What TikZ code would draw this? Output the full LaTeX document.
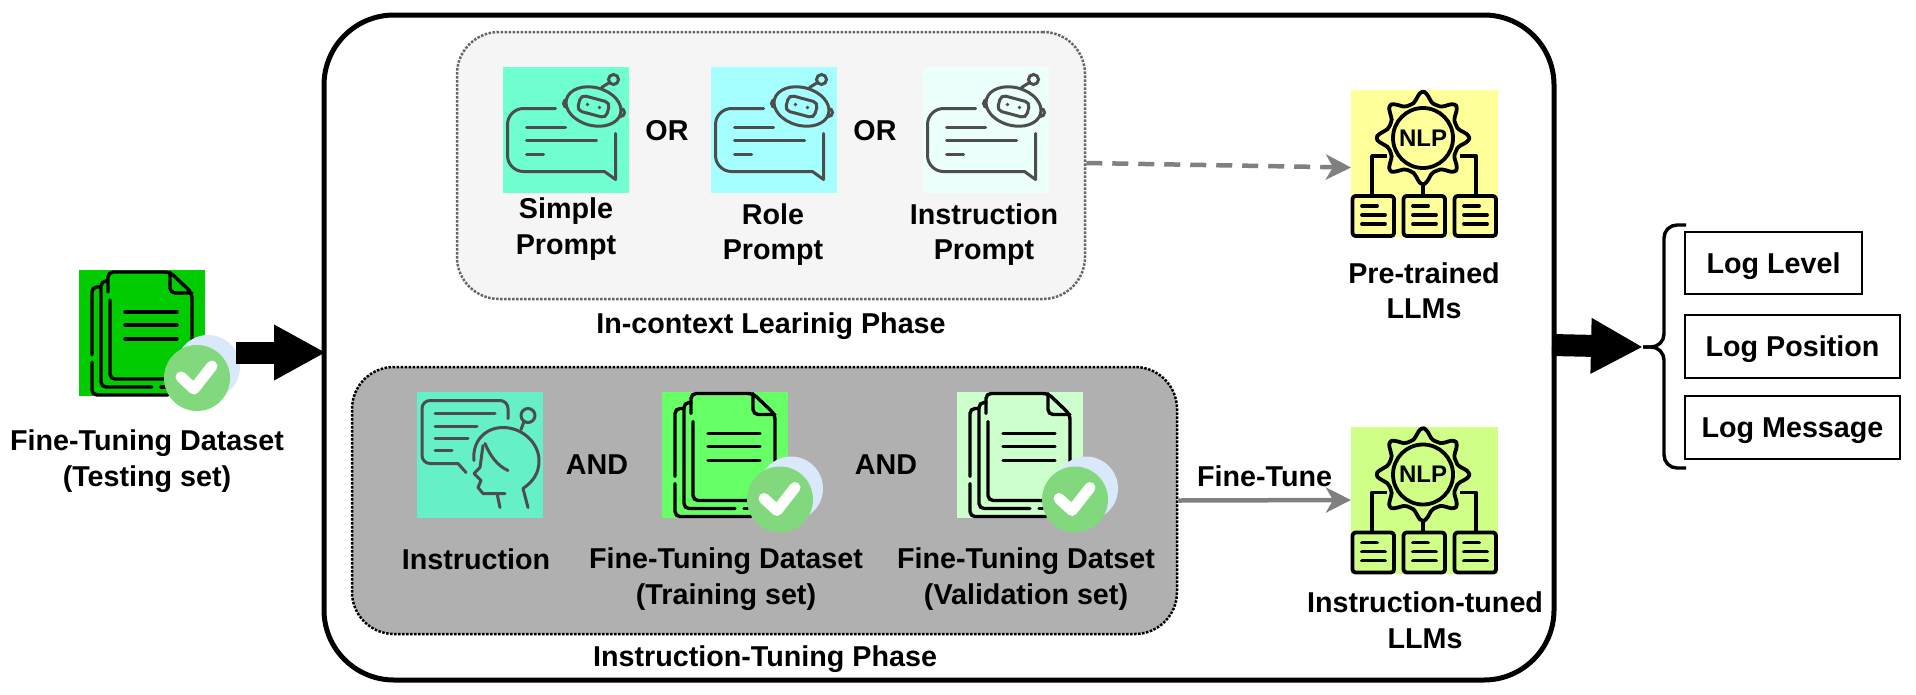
\documentclass[tikz,border=0pt]{standalone}
\usepackage{fontspec}
\setmainfont{Liberation Sans}
\usepackage{xcolor}
\usetikzlibrary{arrows.meta,positioning}

\definecolor{badgefront}{HTML}{82D97D}
\definecolor{badgeback}{HTML}{DAE8FC}
\definecolor{icongrey}{HTML}{4D4D4D}
\definecolor{testgreen}{HTML}{00CC00}
\definecolor{simplefill}{HTML}{6FFFD0}
\definecolor{rolefill}{HTML}{A6FFFF}
\definecolor{instrfill}{HTML}{EBFFFB}
\definecolor{headfill}{HTML}{66F0C8}
\definecolor{trainfill}{HTML}{66FF66}
\definecolor{validfill}{HTML}{CCFFCC}
\definecolor{prefill}{HTML}{FFFF99}
\definecolor{tunedfill}{HTML}{D0FF88}
\definecolor{tuninggrey}{HTML}{B0B0B0}

\tikzset{
    pics/docicon/.style={code={
        \begin{scope}[line width=3.4pt, line cap=round, rounded corners=5pt]
        \draw (31,30) -- (31,109) -- (86,109);
        \draw (29,22) -- (29,2) -- (91,2) -- (113,23) -- (113,77);
        \draw (91,2) -- (91,23) -- (113,23);
        \draw (29,11) -- (22,11) -- (22,117) -- (73,117);
        \draw (82,117) -- (86,117);
        \draw (22,17) -- (13,17) -- (13,85);
        \draw (13,92) -- (13,125) -- (89,125);
        \end{scope}
        \foreach \ypos in {42,55,69}
            \draw[line width=3.4pt, line cap=round] (46,\ypos) -- (98,\ypos);
        \fill[badgeback] (129,97) circle (32pt);
        \fill[badgefront] (118,108) circle (33pt);
        \draw[white, line width=11pt, line cap=round, line join=round] (102,107) -- (115,119) -- (133,96);
    }},
    pics/boticon/.style={code={
        \begin{scope}[draw=icongrey, line width=3pt, line cap=round]
        \draw[rounded corners=16pt] (53,42) -- (5,42) -- (5,105) -- (102,105);
        \draw[line join=round] (102,105) -- (113,113) -- (113,67);
        \draw (24,61) -- (63,61);
        \draw (24,74) -- (94,74);
        \draw (24,88) -- (41,88);
        \draw[fill=#1] (65,37) circle (4pt);
        \draw[fill=#1] (118,46) circle (4pt);
        \draw[fill=#1, rotate around={-15:(91,40)}] (91,40) ellipse [x radius=28pt, y radius=19pt];
        \draw[rounded corners=5pt, rotate around={-15:(91,40)}] (76,32) rectangle (106,48);
        \fill[icongrey] (85,38) circle (1.8pt) (97,41) circle (1.8pt);
        \draw (99,21) -- (107,16);
        \draw (111,13) circle (5pt);
        \end{scope}
    }},
    pics/headicon/.style={code={
        \begin{scope}[draw=icongrey, line width=3pt, line cap=round, line join=round]
        \draw[rounded corners=8pt] (91,27) -- (91,9) -- (5,9) -- (5,72) -- (41,72);
        \draw (41,72) -- (49,81);
        \draw (18,22) -- (78,22);
        \draw (18,35) -- (60,35);
        \draw (18,47) -- (51,47);
        \draw (18,59) -- (35,59);
        \draw (111,24) circle (7pt);
        \draw (107,30) -- (104,38);
        \draw (57,69) .. controls (55,50) and (68,36) .. (86,36) .. controls (106,36) and (122,52) .. (122,69) .. controls (122,82) and (116,90) .. (106,97) -- (111,116);
        \draw (68,52) .. controls (73,64) and (80,74) .. (91,79);
        \draw (66,54) -- (63,76) -- (57,82) -- (64,89) -- (61,96) -- (66,102) -- (88,102);
        \draw (80,102) -- (83,116);
        \end{scope}
    }},
    pics/nlpicon/.style={code={
        \begin{scope}[line width=3.8pt, line join=round]
        \draw[shift={(72,48)}] plot[smooth cycle, samples=65, domain=0:354.375] (\x:{35.5+11*(0.5+0.5*cos(8*\x))^2});
        \draw (72,48) circle (30pt);
        \node[font=\fontsize{24}{26}\selectfont\bfseries, inner sep=0pt] (-word) at (72,48) {NLP};
        \draw (36,66) -- (21,66) -- (21,105);
        \draw (109,66) -- (125,66) -- (125,105);
        \draw (72,93) -- (72,105);
        \foreach \xpos in {0,51,102} {
            \draw[rounded corners=3pt] (1.5+\xpos,106) rectangle (43+\xpos,146);
            \draw[line cap=round] (11+\xpos,116) -- (26+\xpos,116);
            \draw[line cap=round] (11+\xpos,125) -- (34+\xpos,125);
            \draw[line cap=round] (11+\xpos,134) -- (34+\xpos,134);
        }
        \end{scope}
    }}
}

\begin{document}
\begin{tikzpicture}[
    x=1pt, y=-1pt,
    mainbox/.style={rectangle, draw, line width=5pt, outer sep=0pt, rounded corners=70pt, minimum width=1230pt, minimum height=665pt},
    phasebox/.style={rectangle, draw, line width=2.5pt, dash pattern=on 2.5pt off 1.5pt, rounded corners=42pt},
    iconbox/.style={rectangle, inner sep=0pt, outer sep=0pt, minimum width=126pt, minimum height=126pt},
    nlpbox/.style={rectangle, inner sep=0pt, outer sep=0pt, minimum width=147pt, minimum height=147pt},
    txt/.style={font=\fontsize{28.7}{35.5}\selectfont\bfseries, align=center, inner sep=0pt, yshift=-3pt},
    logbox/.style={rectangle, draw, line width=1.5pt, font=\fontsize{28.7}{35.5}\selectfont\bfseries, inner sep=0pt, text height=26pt, text depth=5.5pt},
    blockarrow/.style={line width=22pt, -{Triangle[length=52pt, width=52pt]}},
    greyarrow/.style={draw=gray, line width=4.5pt, -{Stealth[length=25pt, width=25pt, inset=7pt]}, color=gray}
]
\useasboundingbox (0,0) rectangle (1916,694);

% outer frame
\node[mainbox] (main) at (939,347.5) {};

% testing set on the left
\node[iconbox, fill=testgreen] (testing) at (142,333) {};
\pic at (testing.north west) {docicon};
\node[txt] (testinglabel) at (147,458) {Fine-Tuning Dataset\\(Testing set)};

% in-context learning phase
\node[phasebox, draw=black!60, fill=black!4, minimum width=628pt, minimum height=267pt] (prompts) at (771,165.5) {};
\node[iconbox, fill=simplefill] (simple) at (565.5,129.5) {};
\node[iconbox, right=82pt of simple, fill=rolefill] (role) {};
\node[iconbox, right=86pt of role, fill=instrfill] (instr) {};
\pic at (simple.north west) {boticon=simplefill};
\pic at (role.north west) {boticon=rolefill};
\pic at (instr.north west) {boticon=instrfill};
\node[txt] (orone) at (667,128) {OR};
\node[txt] (ortwo) at (875,128) {OR};
\node[txt] (simplelabel) at (566,226) {Simple\\Prompt};
\node[txt] (rolelabel) at (773,231.5) {Role\\Prompt};
\node[txt] (instrlabel) at (984,231.5) {Instruction\\Prompt};
\node[txt] (promptphase) at (771,323) {In-context Learinig Phase};

% instruction tuning phase
\node[phasebox, draw=black, fill=tuninggrey, minimum width=825pt, minimum height=267pt] (tuning) at (764.5,500.5) {};
\node[iconbox, fill=headfill] (instruction) at (480,454.5) {};
\node[iconbox, right=119pt of instruction, fill=trainfill] (training) {};
\node[iconbox, right=169pt of training, fill=validfill] (validation) {};
\pic at (instruction.north west) {headicon};
\pic at (training.north west) {docicon};
\pic at (validation.north west) {docicon};
\node[txt] (andone) at (597,461.5) {AND};
\node[txt] (andtwo) at (886,461.5) {AND};
\node[txt] (instructionlabel) at (476,556) {Instruction};
\node[txt] (traininglabel) at (726,576) {Fine-Tuning Dataset\\(Training set)};
\node[txt] (validationlabel) at (1026,576) {Fine-Tuning Datset\\(Validation set)};
\node[txt] (tuningphase) at (765,656) {Instruction-Tuning Phase};

% models
\node[nlpbox, fill=prefill] (pretrained) at (1424.5,163.5) {};
\pic (pre) at (pretrained.north west) {nlpicon};
\node[txt] (pretrainedlabel) at (1424,287.5) {Pre-trained\\LLMs};
\node[nlpbox, fill=tunedfill] (tuned) at (1424.5,500) {};
\pic (tun) at (tuned.north west) {nlpicon};
\node[txt] (tunedlabel) at (1425,617) {Instruction-tuned\\LLMs};

% outputs
\node[logbox, minimum width=177pt, minimum height=62pt] (level) at (1773.5,263) {Log Level};
\node[logbox, minimum width=215pt, minimum height=63pt] (position) at (1792.5,346.5) {Log Position};
\node[logbox, minimum width=215pt, minimum height=63pt] (message) at (1792.5,427.5) {Log Message};

\coordinate (testingout) at (236,352.5);
\coordinate (mainout) at (1552,345);
\coordinate (bracetip) at (1643,347);
\coordinate (bracetop) at (1686,225);
\coordinate (bracebot) at (1686,468);

\draw[blockarrow] (testingout) -- ([xshift=2pt]testingout -| main.west);
\draw[blockarrow] (mainout) -- (bracetip);
\draw[greyarrow, dash pattern=on 16pt off 10pt] ([yshift=2.5pt]prompts.east) -- ([yshift=-4pt]pretrained.west);
\draw[greyarrow] (tuning.east) -- node[txt, text=black, above=14pt] (finetune) {Fine-Tune} (tuned.west);

\draw[line width=3.4pt, rounded corners=13pt] (bracetop) -- (1664,225) -- (1664,347) -- (bracetip);
\draw[line width=3.4pt, rounded corners=13pt] (bracebot) -- (1664,468) -- (1664,347) -- (bracetip);

\end{tikzpicture}
\end{document}
